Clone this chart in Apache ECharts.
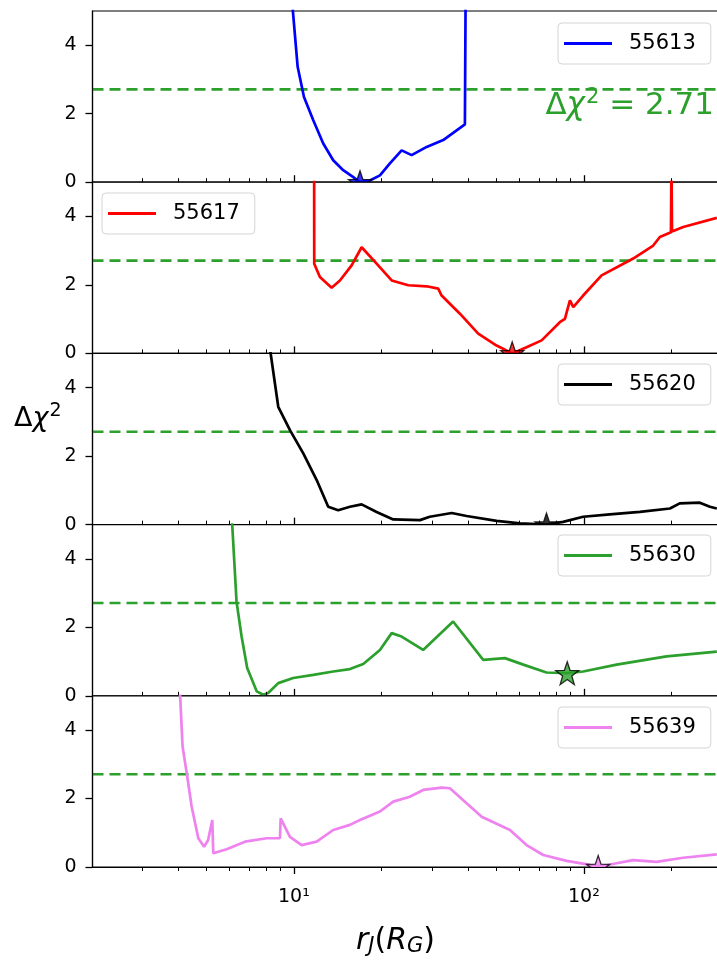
<!DOCTYPE html>
<html><head><meta charset="utf-8">
<script src="https://cdn.jsdelivr.net/npm/echarts@6/dist/echarts.min.js"></script>
<style>html,body{margin:0;padding:0;background:#fff}#c{width:717px;height:960px}</style>
</head><body><div id="c"></div>
<script>
const names = ['55613','55617','55620','55630','55639'];
const colors = ['#0000ff','#ff0000','#000000','#2ca02c','#ee82ee'];
const threshColor = '#2ca02c';

const x1 = [9.78,10.30,10.83,11.66,12.62,13.66,14.79,16.02,16.89,18.28,19.80,21.43,23.52,25.46,28.69,32.72,38.87,39.1];
const y1 = [5.6,3.37,2.49,1.81,1.13,0.64,0.35,0.15,0.0,0.05,0.2,0.55,0.93,0.79,1.03,1.23,1.69,5.6];
const x2 = [11.74,11.75,12.29,13.49,14.41,15.81,17.12,19.28,21.73,24.79,28.69,31.45,32.31,37.36,43.2,50.0,56.6,63.4,71.5,82.6,86.0,89.5,91.9,99.4,115.1,147.9,173.4,182.8,199.6,200.4,201.3,220,287.4];
const y2 = [5.6,2.62,2.23,1.92,2.13,2.57,3.1,2.62,2.13,1.99,1.96,1.89,1.69,1.16,0.58,0.23,0.0,0.18,0.38,0.91,1.01,1.55,1.35,1.69,2.28,2.77,3.15,3.40,3.54,5.6,3.56,3.69,3.96];
const x3 = [8.12,8.83,9.69,10.77,11.98,13.13,14.21,15.60,17.12,19.28,22.0,27.2,29.4,35.0,39.4,50.0,60.2,74.3,84.8,99.4,122.9,156.0,198,214,251,272,287.4];
const y3 = [5.6,3.44,2.76,2.08,1.30,0.52,0.42,0.52,0.59,0.37,0.15,0.13,0.23,0.34,0.25,0.11,0.035,0.0,0.08,0.23,0.30,0.37,0.47,0.62,0.64,0.52,0.47];
const x4 = [6.07,6.34,6.60,6.90,7.44,7.84,8.15,8.83,9.94,11.66,13.66,15.60,17.34,19.80,21.73,23.52,27.9,35.4,44.96,53.4,61.8,74.3,87.6,99.4,129.7,192.9,287.4];
const y4 = [5.6,2.75,1.73,0.81,0.13,0.03,0.08,0.37,0.52,0.61,0.71,0.78,0.93,1.34,1.83,1.73,1.34,2.17,1.05,1.10,0.91,0.68,0.66,0.71,0.91,1.15,1.29];
const x5 = [4.02,4.13,4.27,4.44,4.68,4.90,5.06,5.23,5.27,5.86,6.78,8.05,8.95,9.00,9.69,10.63,11.98,13.66,15.60,16.89,19.80,22.0,25.1,27.9,32.3,34.5,39.4,44.4,55.6,63.4,72.4,87.2,104.9,112,129.7,147.9,178.1,220,287.4];
const y5 = [5.6,3.52,2.74,1.76,0.84,0.59,0.79,1.37,0.40,0.52,0.74,0.84,0.84,1.42,0.88,0.64,0.74,1.08,1.23,1.37,1.62,1.91,2.05,2.25,2.32,2.30,1.86,1.47,1.08,0.64,0.35,0.18,0.06,0.0,0.11,0.20,0.15,0.27,0.37];

const starX = [16.9,56.6,74.3,87.6,112];
const starY = [0,0,0,0.66,0];

const threshold = 2.71;
const yTicks = [0,2,4];
const xMajor = [10,100];
const xMajorLabels = ['10\u00b9','10\u00b2'];
const xMinor = [3,4,5,6,7,8,9,20,30,40,50,60,70,80,90,200];
const xMin = 2.02, xMax = 299.4;
const yMin = 0, yMax = 5;

const XS = [x1,x2,x3,x4,x5];
const YS = [y1,y2,y3,y4,y5];

const FONT = 'DejaVu Sans';
const panelTop = 11, panelH = 171.2, gridLeft = 92.5;
const legendPos = [[558,23],[102,193],[558,364],[558,535],[558,707]];
const starPath = 'path://M0,-10 L2.35,-3.24 9.51,-3.09 3.8,1.24 5.88,8.09 0,4 -5.88,8.09 -3.8,1.24 -9.51,-3.09 -2.35,-3.24 Z';

const grid = [], xAxis = [], yAxis = [], series = [], legend = [];
for (let i = 0; i < 5; i++) {
  const zb = 10 * (i + 1);
  const last = i === 4;
  grid.push({left: gridLeft, right: -5, top: panelTop + i * panelH, height: panelH,
    outerBoundsMode: 'none', containLabel: false,
    show: true, backgroundColor: '#fff', borderColor: '#000', borderWidth: 1.2, z: zb});
  xAxis.push({type: 'log', gridIndex: i, position: 'bottom', min: xMin, max: xMax, z: zb + 5,
    axisLine: {show: true, onZero: false, lineStyle: {color: '#000', width: 1.2}}, splitLine: {show: false},
    minorTick: {show: false},
    axisTick: {show: true, customValues: xMajor, inside: !last, length: 7, lineStyle: {color: '#000', width: 1.3}},
    axisLabel: {show: last, customValues: xMajor, margin: 21, fontFamily: FONT, fontSize: 19, color: '#000',
      formatter: v => { const k = xMajor.indexOf(Math.round(v)); return k >= 0 ? xMajorLabels[k] : ''; }}
  });
  xAxis.push({type: 'log', gridIndex: i, position: 'bottom', min: xMin, max: xMax, z: zb + 5,
    axisLine: {show: true, onZero: false, lineStyle: {color: '#000', width: 1.2}}, splitLine: {show: false},
    axisTick: {show: true, customValues: xMinor, inside: !last, length: 4, lineStyle: {color: '#000', width: 1}},
    axisLabel: {show: false}
  });
  yAxis.push({type: 'value', gridIndex: i, position: 'left', min: yMin, max: yMax, z: zb + 5,
    axisLine: {show: true, onZero: false, lineStyle: {color: '#000', width: 1.2}}, splitLine: {show: false},
    axisTick: {show: true, customValues: yTicks, length: 7, lineStyle: {color: '#000', width: 1.3}},
    axisLabel: {customValues: yTicks, margin: 16, fontFamily: FONT, fontSize: 19, color: '#000'}
  });
  series.push({
    name: 'thr' + i, type: 'line', xAxisIndex: 2 * i, yAxisIndex: i, z: zb + 1,
    data: [[xMin, threshold], [xMax, threshold]], showSymbol: false, symbol: 'none', silent: true,
    lineStyle: {color: threshColor, type: [11, 6], width: 2.6}, emphasis: {disabled: true}
  });
  series.push({
    name: names[i], type: 'line', xAxisIndex: 2 * i, yAxisIndex: i, z: zb + 2,
    data: XS[i].map((x, k) => [x, YS[i][k]]),
    showSymbol: false, symbol: 'none', clip: true, smooth: false,
    lineStyle: {color: colors[i], width: 2.7}, itemStyle: {color: colors[i]},
    emphasis: {disabled: true}
  });
  series.push({
    name: 'best_' + names[i], type: 'scatter', xAxisIndex: 2 * i, yAxisIndex: i, z: zb + 3,
    data: [[starX[i], starY[i]]], symbol: starPath, symbolSize: 23,
    itemStyle: {color: colors[i], borderColor: '#000', borderWidth: 1.3},
    emphasis: {disabled: true}
  });
  legend.push({
    data: [names[i]], left: legendPos[i][0], top: legendPos[i][1], z: 200,
    orient: 'vertical', icon: 'rect', itemWidth: 48, itemHeight: 3,
    padding: [10, 15, 10, 6], backgroundColor: 'rgba(255,255,255,0.85)',
    borderColor: '#d5d5d5', borderWidth: 1, borderRadius: 4, selectedMode: false,
    textStyle: {fontFamily: FONT, fontSize: 21, color: '#000', padding: [0, 0, 0, 12]}
  });
}

const option = {
  animation: false,
  grid, xAxis, yAxis, series, legend,
  graphic: [
    {type: 'rect', z: 54, silent: true, shape: {x: gridLeft + 1, y: panelTop + 5 * panelH + 0.7, width: 640, height: 14},
      style: {fill: '#fff'}},
    {type: 'text', left: 14, top: 402, z: 300, style: {
      text: '{a|\u0394}{b|\u03c7}{c|2}', fill: '#000',
      rich: {a: {fontFamily: FONT, fontSize: 27, fill: '#000'},
             b: {fontFamily: FONT, fontSize: 27, fontStyle: 'italic', fill: '#000'},
             c: {fontFamily: FONT, fontSize: 19, fill: '#000', padding: [0, 0, 14, 1]}}}},
    {type: 'text', right: 3, top: 87, z: 300, style: {
      text: '{a|\u0394}{b|\u03c7}{c|2}{a| = 2.71}', fill: threshColor,
      rich: {a: {fontFamily: FONT, fontSize: 31, fill: threshColor},
             b: {fontFamily: FONT, fontSize: 31, fontStyle: 'italic', fill: threshColor},
             c: {fontFamily: FONT, fontSize: 21, fill: threshColor, padding: [0, 0, 16, 1]}}}},
    {type: 'text', left: 356, top: 926, z: 300, style: {
      text: '{r|r}{s|J}{p|(}{r|R}{s|G}{p|)}', fill: '#000',
      rich: {r: {fontFamily: FONT, fontSize: 30, fontStyle: 'italic', fill: '#000'},
             s: {fontFamily: FONT, fontSize: 21, fontStyle: 'italic', fill: '#000', padding: [12, 0, 0, 0]},
             p: {fontFamily: FONT, fontSize: 30, fill: '#000'}}}}
  ]
};
const chart = echarts.init(document.getElementById('c'), null, {renderer: 'canvas'});
chart.setOption(option);
</script>
</body></html>
